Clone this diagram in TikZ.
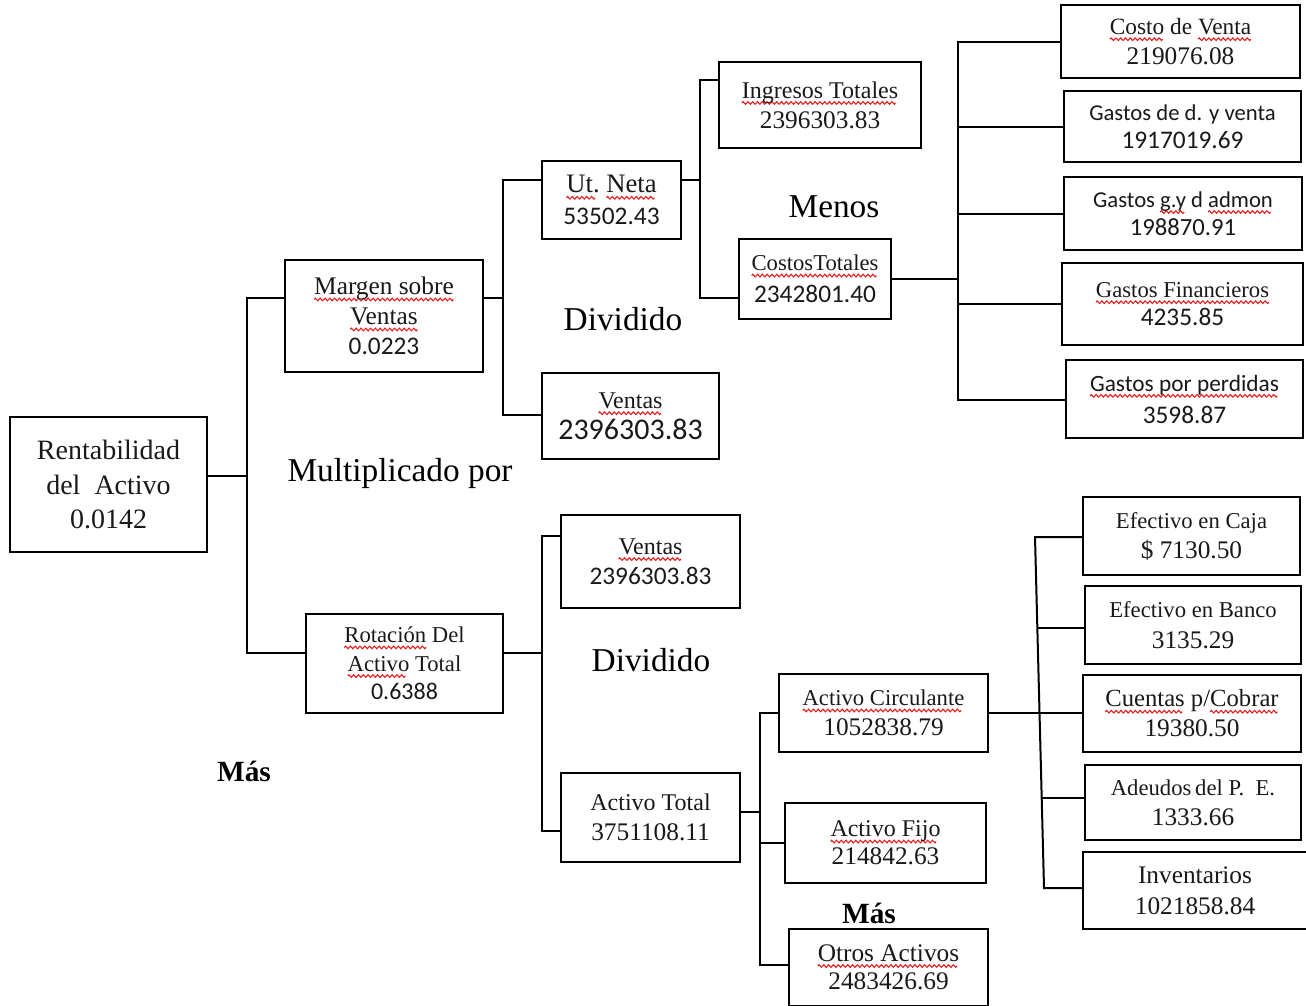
\documentclass[tikz,border=0pt]{standalone}
\usepackage{fontspec}
\setmainfont{Liberation Serif}
\newfontfamily\ca{Carlito}
\usetikzlibrary{calc}
\newbox\wvbox
\newbox\sqbox
\setbox\wvbox\hbox to 3.6pt{\special{pdf:literal q 0.9 0.1 0.1 RG 0.8 w 0 0 m 0.9 1.3 0.9 1.3 1.8 0 c 2.7 -1.3 2.7 -1.3 3.6 0 c S Q}\hss}
\newcommand\sq[1]{\leavevmode\setbox\sqbox\hbox{#1}\rlap{\lower3.6pt\hbox to\wd\sqbox{\leaders\copy\wvbox\hfill}}\box\sqbox}
\tikzset{
  box/.style={draw=black, line width=1.5pt, align=center, inner sep=0pt, text=black!90},
  sz/.style 2 args={minimum width=#1*0.75pt, minimum height=#2*0.75pt},
  con/.style={draw=black, line width=1.5pt},
  lbl/.style={font=\fontsize{25}{30}\selectfont, inner sep=0pt, anchor=base},
  lblb/.style={font=\fontsize{22}{26}\selectfont\bfseries, inner sep=0pt, anchor=base}}
\begin{document}
\begin{tikzpicture}[x=0.75pt,y=-0.75pt]
\useasboundingbox (0,0) rectangle (1306,1006);

% ---- boxes
\node[box, sz={197}{135}, font=\fontsize{21}{26}\selectfont] (rent) at (108.5,484.5) {Rentabilidad\\del~~Activo\\0.0142};
\node[box, sz={198}{112}, font=\fontsize{19}{22.5}\selectfont] (marg) at (384,316) {\sq{Margen sobre}\\\sq{Ventas}\\{\ca 0.0223}};
\node[box, sz={197}{99}, font=\fontsize{17}{21.5}\selectfont] (rot) at (404.5,663.5) {\sq{Rotación} Del\\\sq{Activo} Total\\{\ca\fontsize{18}{21.5}\selectfont 0.6388}};
\node[box, sz={139}{78}, font=\fontsize{20}{23.5}\selectfont] (utn) at (611.5,200) {\sq{Ut.} \sq{Neta}\\{\ca\fontsize{19}{23.5}\selectfont 53502.43}};
\node[box, sz={177}{86}, font=\fontsize{18}{23}\selectfont] (ven1) at (630.5,416) {\sq{Ventas}\\{\ca\fontsize{22.5}{23}\selectfont 2396303.83}};
\node[box, sz={202}{86}, font=\fontsize{18}{22.5}\selectfont] (ing) at (820,105) {\sq{Ingresos Totales}\\{\fontsize{19}{22.5}\selectfont 2396303.83}};
\node[box, sz={152}{80}, font=\fontsize{17}{24}\selectfont] (cost) at (815,279) {\sq{CostosTotales}\\{\ca\fontsize{19}{24}\selectfont 2342801.40}};

\node[box, sz={239}{73}, font=\fontsize{17.5}{22.5}\selectfont] (cv) at (1180.5,41.5) {\sq{Costo} de \sq{Venta}\\{\fontsize{19}{22.5}\selectfont 219076.08}};
\node[box, sz={237}{71}, font=\ca\fontsize{17}{21}\selectfont] (gdv) at (1182.5,126.5) {Gastos de d. y venta\\{\fontsize{19}{21}\selectfont 1917019.69}};
\node[box, sz={238}{73}, font=\ca\fontsize{17}{21}\selectfont] (gga) at (1183,213.5) {Gastos \sq{g.y} d \sq{admon}\\{\fontsize{18.5}{21}\selectfont 198870.91}};
\node[box, sz={241}{82}, font=\fontsize{17}{21}\selectfont] (gfi) at (1182.5,304) {\sq{Gastos Financieros}\\{\ca\fontsize{19}{21}\selectfont 4235.85}};
\node[box, sz={237}{78}, font=\ca\fontsize{17.5}{24}\selectfont] (gpp) at (1184.5,399) {\sq{Gastos por perdidas}\\{\fontsize{19}{24}\selectfont 3598.87}};

\node[box, sz={179}{93}, font=\fontsize{18}{22.5}\selectfont] (ven2) at (650.5,561.5) {\sq{Ventas}\\{\ca\fontsize{19}{22.5}\selectfont 2396303.83}};
\node[box, sz={179}{89}, font=\fontsize{18}{23}\selectfont] (act) at (650.5,817.5) {Activo Total\\{\fontsize{19}{23}\selectfont 3751108.11}};

\node[box, sz={209}{78}, font=\fontsize{17}{22.5}\selectfont] (acirc) at (883.5,713) {\sq{Activo Circulante}\\{\fontsize{19}{22.5}\selectfont 1052838.79}};
\node[box, sz={201}{80}, font=\fontsize{18}{21}\selectfont] (afij) at (885.5,843) {\sq{Activo Fijo}\\{\fontsize{19}{21}\selectfont 214842.63}};
\node[box, sz={199}{77}, font=\fontsize{19}{21}\selectfont] (oact) at (888.5,967) {\sq{Otros Activos}\\2483426.69};

\node[box, sz={217}{78}, font=\fontsize{17}{22.5}\selectfont] (ecaj) at (1191.5,536) {Efectivo en Caja\\{\fontsize{19}{22.5}\selectfont \$ 7130.50}};
\node[box, sz={216}{78}, font=\fontsize{17}{23}\selectfont] (eban) at (1193,625) {Efectivo en Banco\\{\fontsize{19}{23}\selectfont 3135.29}};
\node[box, sz={218}{77}, font=\fontsize{18.5}{22.5}\selectfont] (cuen) at (1192,713.5) {\sq{Cuentas} p/\sq{Cobrar}\\{\fontsize{19}{22.5}\selectfont 19380.50}};
\node[box, sz={216}{75}, font=\fontsize{17}{22.5}\selectfont] (adeu) at (1193,802.5) {Adeudos\,del P.~~E.\\{\fontsize{19}{22.5}\selectfont 1333.66}};
\node[box, sz={224}{77}, font=\fontsize{19}{23}\selectfont] (inve) at (1195,890.5) {Inventarios\\1021858.84};

% ---- free labels
\node[lbl] (menos) at (834,217) {Menos};
\node[lbl] (div1) at (623,330) {Dividido};
\node[lbl] (mult) at (400,481) {Multiplicado por};
\node[lbl] (div2) at (651,671) {Dividido};
\node[lblb] (mas1) at (244,781) {Más};
\node[lblb] (mas2) at (869,923) {Más};

% ---- connectors
\coordinate (j1t) at (247,298); \coordinate (j1m) at (247,476); \coordinate (j1b) at (247,653);
\draw[con] (marg.west |- j1t) -- (j1t) -- (j1b) -- (rot.west |- j1b);
\draw[con] (rent.east |- j1m) -- (j1m);

\coordinate (j2t) at (503,180); \coordinate (j2m) at (503,298); \coordinate (j2b) at (503,415);
\draw[con] (utn.west |- j2t) -- (j2t) -- (j2b) -- (ven1.west |- j2b);
\draw[con] (marg.east |- j2m) -- (j2m);

\coordinate (j3t) at (700,80); \coordinate (j3m) at (700,180); \coordinate (j3b) at (700,298);
\draw[con] (ing.west |- j3t) -- (j3t) -- (j3b) -- (cost.west |- j3b);
\draw[con] (utn.east |- j3m) -- (j3m);

\coordinate (j4t) at (958,42); \coordinate (j4m) at (958,279); \coordinate (j4b) at (958,400);
\draw[con] (cv.west |- j4t) -- (j4t) -- (j4b) -- (gpp.west |- j4b);
\draw[con] (cost.east |- j4m) -- (j4m);
\draw[con] (gdv.west) -- (gdv.west -| j4t);
\draw[con] (gga.west) -- (gga.west -| j4t);
\draw[con] (gfi.west) -- (gfi.west -| j4t);

\coordinate (j5t) at (542,536); \coordinate (j5m) at (542,653); \coordinate (j5b) at (542,831);
\draw[con] (ven2.west |- j5t) -- (j5t) -- (j5b) -- (act.west |- j5b);
\draw[con] (rot.east |- j5m) -- (j5m);

\coordinate (j6t) at (760,713); \coordinate (j6m) at (760,812); \coordinate (j6b) at (760,965);
\draw[con] (acirc.west |- j6t) -- (j6t) -- (j6b) -- (oact.west |- j6b);
\draw[con] (act.east |- j6m) -- (j6m);
\draw[con] (afij.west) -- (afij.west -| j6t);

\coordinate (j7t) at (1035,537); \coordinate (j7b) at (1044,888);
\coordinate (j7a) at ($(j7t)!0.259!(j7b)$);
\coordinate (j7c) at ($(j7t)!0.744!(j7b)$);
\draw[con] (ecaj.west |- j7t) -- (j7t) -- (j7b) -- (inve.west |- j7b);
\draw[con] (acirc.east) -- (cuen.west |- acirc.east);
\draw[con] (j7a) -- (eban.west |- j7a);
\draw[con] (j7c) -- (adeu.west |- j7c);
\end{tikzpicture}
\end{document}
